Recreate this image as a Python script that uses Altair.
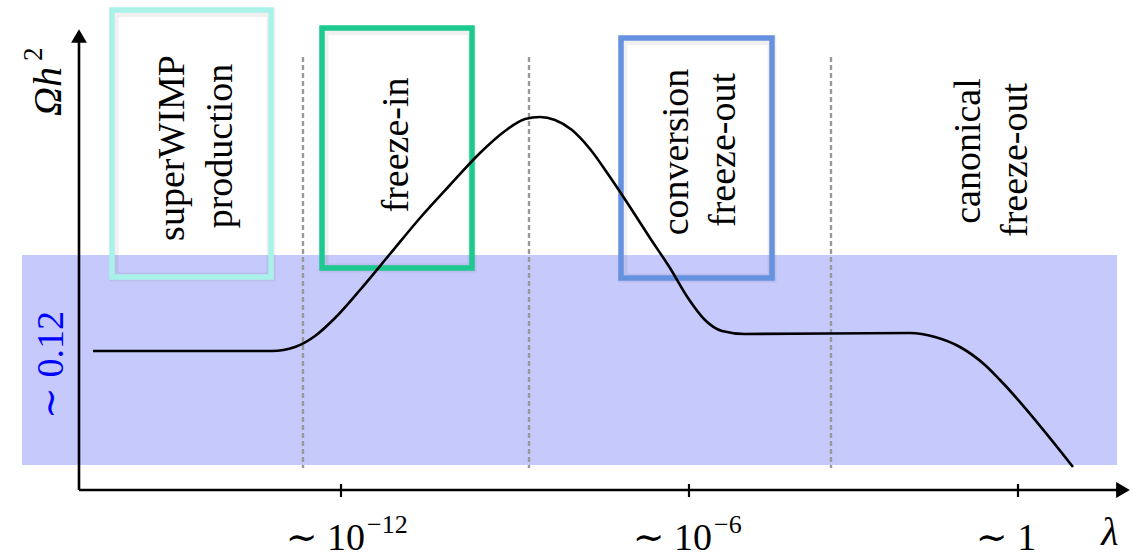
import altair as alt
import pandas as pd

W, H = 1145, 560
SERIF = "Liberation Serif, DejaVu Serif, serif"

# Schematic canvas: x grows with the coupling λ (log scale), y is measured top-down.
# Relic abundance Ωh² as a function of λ
curve_x = [93, 272, 295, 315, 335, 360, 390, 420, 450, 480, 505, 525, 540, 555,
           572, 590, 610, 630, 650, 670, 688, 705, 722, 745, 910, 935, 960, 985,
           1000, 1073]
curve_y = [351, 351, 347, 336, 318, 290, 254, 218, 185, 153, 131, 119, 117, 120,
           130, 149, 177, 207, 238, 268, 298, 320, 331, 334, 333, 337, 347, 365,
           380, 467]

# Observed dark-matter abundance band (~0.12)
band_x = [22, 1117]
band_y = [255, 465]

# Boundaries between production regimes
edge_x = [303, 529, 831]
edge_top, edge_bottom = 57, 468

# Framed regimes
box_x1 = [112, 322, 621]
box_x2 = [271, 472, 772]
box_y1 = [10, 28, 38]
box_y2 = [277, 268, 278]
box_colors = ["#a9f2e9", "#1cc98e", "#6691e0"]

# Regime names (vertical text, one entry per line)
region_text = ["superWIMP", "production", "freeze-in", "conversion", "freeze-out",
               "canonical", "freeze-out"]
region_x = [184, 232, 408, 688, 735, 980, 1027]
region_y = [148, 146, 145, 152, 150, 151, 160]

# Axes
origin_x, origin_y = 79, 490
y_axis_top = 36
x_axis_end = 1121
tick_x = [341, 689, 1018]
tick_len = [484, 497]

# Tick labels ∼10^n
pow_base = ["∼ 10", "∼ 10"]
pow_exp = ["−12", "−6"]
pow_x = [365, 712]
unit_label = ["∼ 1"]
unit_x = [1006]
label_baseline = 550
exp_baseline = 533

xs = alt.Scale(domain=[0, W], nice=False, zero=False)
ys = alt.Scale(domain=[0, H], nice=False, zero=False, reverse=True)
X = lambda f="x": alt.X(f"{f}:Q", scale=xs, axis=None)
Y = lambda f="y": alt.Y(f"{f}:Q", scale=ys, axis=None)

band = alt.Chart(pd.DataFrame({"x": [band_x[0]], "x2": [band_x[1]],
                               "y": [band_y[0]], "y2": [band_y[1]]})).mark_rect(
    color="#c6c9fb").encode(x=X(), x2="x2", y=Y(), y2="y2")

edges = alt.Chart(pd.DataFrame({"x": edge_x, "y": [edge_top] * 3,
                                "y2": [edge_bottom] * 3})).mark_rule(
    color="#999999", strokeWidth=2.4, strokeDash=[5, 3]).encode(x=X(), y=Y(), y2="y2")

boxes_df = pd.DataFrame({"x": box_x1, "x2": box_x2, "y": box_y1, "y2": box_y2,
                         "c": box_colors})
box_shadow = alt.Chart(boxes_df).mark_rect(
    fillOpacity=0, stroke="#000000", strokeOpacity=0.06, strokeWidth=9,
    xOffset=2, yOffset=2.5).encode(x=X(), x2="x2", y=Y(), y2="y2")
boxes = alt.Chart(boxes_df).mark_rect(fillOpacity=0, strokeWidth=5.5).encode(
    x=X(), x2="x2", y=Y(), y2="y2", stroke=alt.Stroke("c:N", scale=None))

curve = alt.Chart(pd.DataFrame({"x": curve_x, "y": curve_y})).mark_line(
    color="black", strokeWidth=2.6, interpolate="monotone").encode(x=X(), y=Y())

axes_df = pd.DataFrame({"x": [origin_x, origin_x], "x2": [origin_x, x_axis_end],
                        "y": [origin_y, origin_y], "y2": [y_axis_top + 6, origin_y]})
axes = alt.Chart(axes_df).mark_rule(color="black", strokeWidth=2.6).encode(
    x=X(), x2="x2", y=Y(), y2="y2")
ticks = alt.Chart(pd.DataFrame({"x": tick_x, "y": [tick_len[0]] * 3,
                                "y2": [tick_len[1]] * 3})).mark_rule(
    color="black", strokeWidth=2.2).encode(x=X(), y=Y(), y2="y2")
arrow_up = alt.Chart(pd.DataFrame({"x": [origin_x], "y": [y_axis_top]})).mark_point(
    shape="triangle-up", filled=True, color="black", size=250, opacity=1).encode(x=X(), y=Y())
arrow_right = alt.Chart(pd.DataFrame({"x": [x_axis_end + 2], "y": [origin_y]})).mark_point(
    shape="triangle-right", filled=True, color="black", size=250, opacity=1).encode(x=X(), y=Y())

def text_layer(texts, xv, yv, **mark):
    df = pd.DataFrame({"t": texts, "x": xv, "y": yv})
    return alt.Chart(df).mark_text(font=SERIF, color="black", **mark).encode(
        x=X(), y=Y(), text="t:N")

regions = text_layer(region_text, region_x, region_y, angle=270, align="center",
                     baseline="alphabetic", fontSize=38)
pow_main = text_layer(pow_base, pow_x, [label_baseline] * 2, align="right",
                      baseline="alphabetic", fontSize=38)
pow_sup = text_layer(pow_exp, [x + 2 for x in pow_x], [exp_baseline] * 2, align="left",
                     baseline="alphabetic", fontSize=26)
unit = text_layer(unit_label, unit_x, [label_baseline], align="center",
                  baseline="alphabetic", fontSize=38)
lam = text_layer(["λ"], [1110], [545], align="center", baseline="alphabetic",
                 fontSize=40, fontStyle="italic")
omega = text_layer(["Ωh"], [61], [116], angle=270, align="left",
                   baseline="alphabetic", fontSize=40, fontStyle="italic")
omega_sup = text_layer(["2"], [42], [61], angle=270, align="left",
                       baseline="alphabetic", fontSize=27)
band_label = alt.Chart(pd.DataFrame({"t": ["∼ 0.12"], "x": [63], "y": [365]})).mark_text(
    font=SERIF, color="#0000ff", angle=270, align="center", baseline="alphabetic",
    fontSize=38).encode(x=X(), y=Y(), text="t:N")

chart = alt.layer(
    band, edges, box_shadow, boxes, curve, axes, ticks, arrow_up, arrow_right,
    regions, pow_main, pow_sup, unit, lam, omega, omega_sup, band_label,
).properties(
    width=W, height=H, padding=0, autosize=alt.AutoSizeParams(type="none"),
    background="white",
).configure_view(stroke=None)

chart.save("out.html", embed_options={"renderer": "svg", "actions": False})
